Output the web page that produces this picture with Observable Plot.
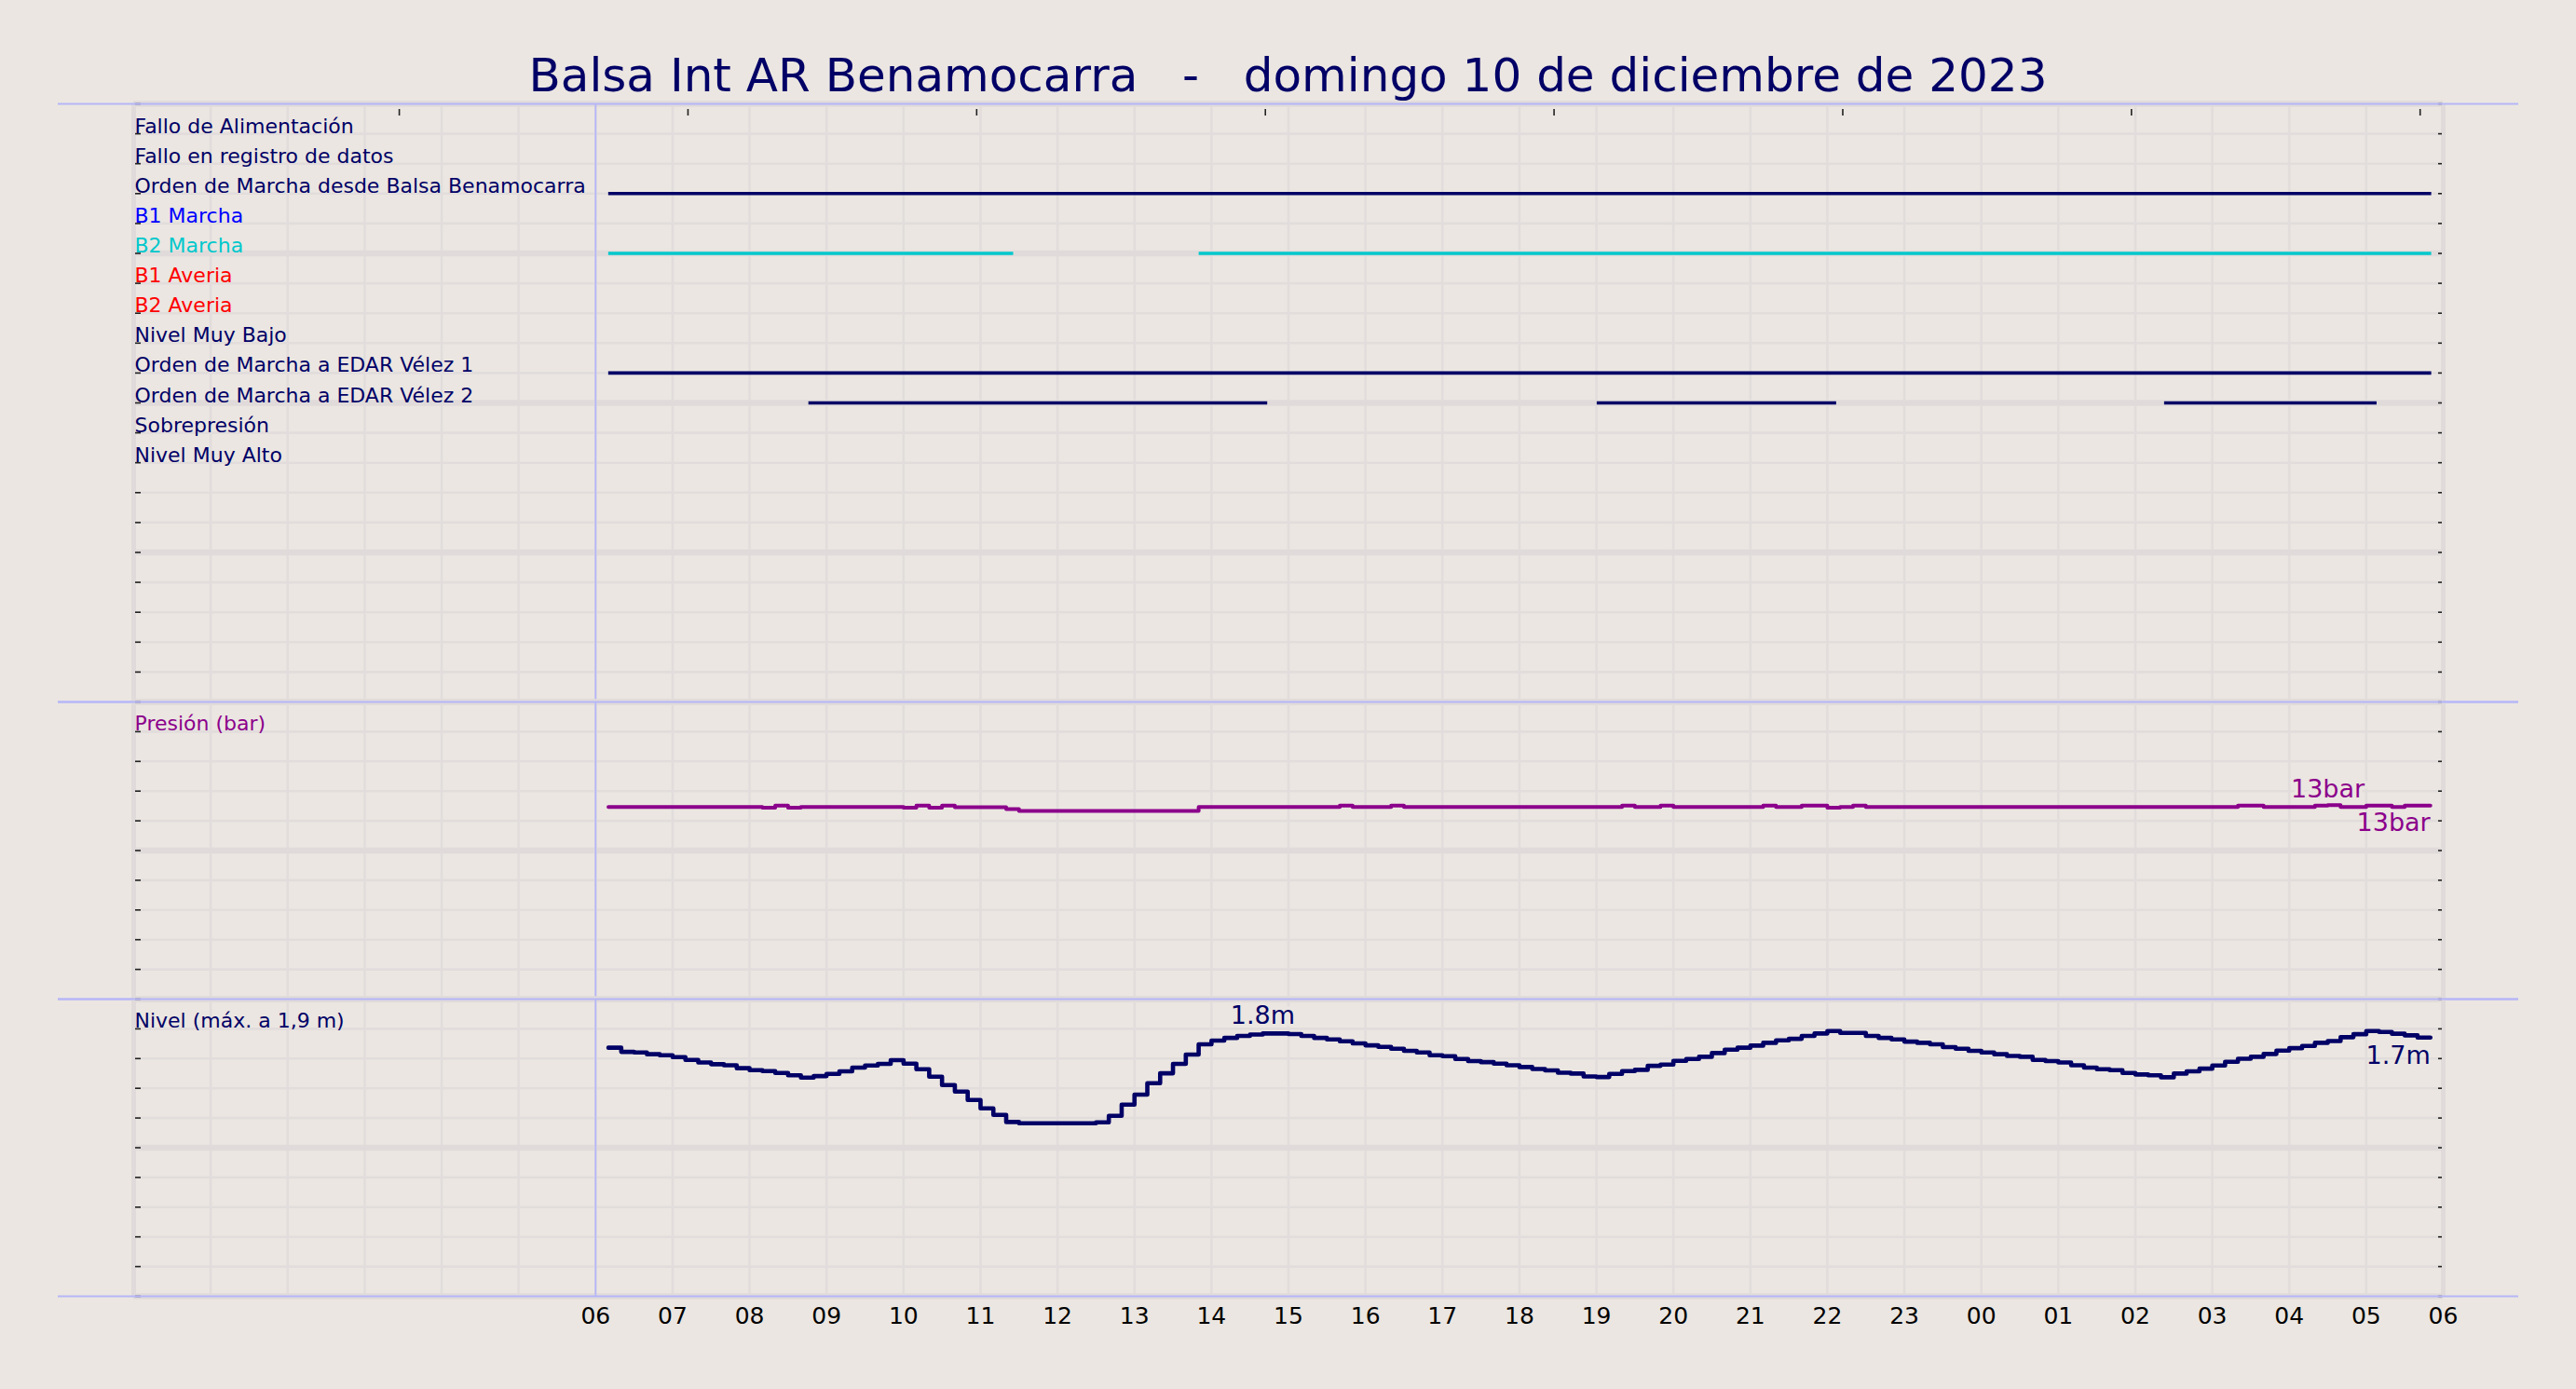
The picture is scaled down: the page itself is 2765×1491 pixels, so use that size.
<!DOCTYPE html>
<html>
<head>
<meta charset="utf-8">
<script src="https://cdn.jsdelivr.net/npm/d3@7"></script>
<script src="https://cdn.jsdelivr.net/npm/@observablehq/plot@0.6"></script>
<style>
html, body { margin: 0; padding: 0; background: #ebe6e1; }
#wrap { position: relative; width: 2765px; height: 1491px; overflow: hidden; background: #ebe6e1; }
#title { position: absolute; left: 0; top: 56px; width: 2765px; text-align: center;
  font-family: "DejaVu Sans"; font-size: 50px; line-height: 50px; color: #000066; white-space: pre; }
.panel { position: absolute; left: 0; }
</style>
</head>
<body>
<div id="wrap"><div id="title"></div></div>
<script>
// ---------------- DATA ----------------
const titleText = "Balsa Int AR Benamocarra   -   domingo 10 de diciembre de 2023";

const signalNames = [
  "Fallo de Alimentación",
  "Fallo en registro de datos",
  "Orden de Marcha desde Balsa Benamocarra",
  "B1 Marcha",
  "B2 Marcha",
  "B1 Averia",
  "B2 Averia",
  "Nivel Muy Bajo",
  "Orden de Marcha a EDAR Vélez 1",
  "Orden de Marcha a EDAR Vélez 2",
  "Sobrepresión",
  "Nivel Muy Alto"
];
const signalColors = ["#000066","#000066","#000066","#0000ff","#00c8cc","#ff0000","#ff0000","#000066","#000066","#000066","#000066","#000066"];

// on-periods of the digital signals, in hours since 00:00 of the day (next day > 24)
const ordenBalsaRuns = [[6.17, 29.85]];
const b2MarchaRuns   = [[6.17, 11.43], [13.84, 29.85]];
const edar1Runs      = [[6.17, 29.85]];
const edar2Runs      = [[8.77, 14.73], [19.01, 22.12], [26.38, 29.14]];

// 10-minute samples starting 06:10
const sampleStartHour = 6 + 10 / 60;
const sampleStepHours = 10 / 60;

const pressureValues = [
  12.93,12.93,12.93,12.93,12.93,12.93,12.93,12.93,12.93,12.93,
  12.93,12.93,12.88,13.02,12.88,12.93,12.93,12.93,12.93,12.93,
  12.93,12.93,12.93,12.88,13.02,12.88,13.02,12.91,12.91,12.91,
  12.91,12.79,12.66,12.66,12.66,12.66,12.66,12.66,12.66,12.66,
  12.66,12.66,12.66,12.66,12.66,12.66,12.93,12.93,12.93,12.93,
  12.93,12.93,12.93,12.93,12.93,12.93,12.93,13.02,12.93,12.93,
  12.93,13.02,12.93,12.93,12.93,12.93,12.93,12.93,12.93,12.93,
  12.93,12.93,12.93,12.93,12.93,12.93,12.93,12.93,12.93,13.02,
  12.93,12.93,13.02,12.93,12.93,12.93,12.93,12.93,12.93,12.93,
  13.02,12.93,12.93,13.02,13.02,12.88,12.93,13.02,12.93,12.93,
  12.93,12.93,12.93,12.93,12.93,12.93,12.93,12.93,12.93,12.93,
  12.93,12.93,12.93,12.93,12.93,12.93,12.93,12.93,12.93,12.93,
  12.93,12.93,12.93,12.93,12.93,12.93,12.93,13.02,13.02,12.93,
  12.93,12.93,12.93,13.02,13.05,12.93,12.93,13.02,13.02,12.93,
  13.02,13.02
];

const levelValues = [
  1.673,1.645,1.641,1.629,1.622,1.610,1.591,1.574,1.562,1.555,
  1.535,1.522,1.516,1.503,1.487,1.472,1.482,1.497,1.514,1.539,
  1.553,1.564,1.589,1.566,1.528,1.478,1.422,1.378,1.321,1.265,
  1.221,1.173,1.165,1.165,1.165,1.165,1.165,1.165,1.171,1.215,
  1.290,1.357,1.434,1.501,1.564,1.627,1.696,1.721,1.739,1.752,
  1.762,1.769,1.769,1.765,1.752,1.739,1.729,1.716,1.702,1.689,
  1.679,1.666,1.652,1.641,1.622,1.616,1.597,1.583,1.576,1.566,
  1.555,1.543,1.530,1.520,1.505,1.499,1.480,1.476,1.497,1.516,
  1.524,1.551,1.560,1.585,1.597,1.612,1.637,1.660,1.673,1.687,
  1.706,1.723,1.733,1.752,1.769,1.785,1.773,1.773,1.752,1.739,
  1.729,1.714,1.706,1.696,1.677,1.666,1.652,1.641,1.629,1.618,
  1.612,1.591,1.583,1.574,1.555,1.539,1.528,1.522,1.503,1.493,
  1.487,1.474,1.499,1.514,1.532,1.553,1.578,1.599,1.612,1.631,
  1.654,1.670,1.685,1.706,1.718,1.744,1.764,1.785,1.779,1.767,
  1.756,1.741
];
const levelMarkIndex = 51;   // sample annotated with its value in the reference

const hourDomain = [0, 30];
const gridHours = [0,1,2,3,4,5,6,7,8,9,10,11,12,13,14,15,16,17,18,19,20,21,22,23,24,25,26,27,28,29,30];
const dayStartHour = 6;
const xTickHours = [6,7,8,9,10,11,12,13,14,15,16,17,18,19,20,21,22,23,24,25,26,27,28,29,30];
const xTickLabels = ["06","07","08","09","10","11","12","13","14","15","16","17","18","19","20","21","22","23","00","01","02","03","04","05","06"];
const topTickHours = [3.45, 7.2, 10.95, 14.7, 18.45, 22.2, 25.95, 29.7];

const signalRows = [0,1,2,3,4,5,6,7,8,9,10,11,12,13,14,15,16,17,18,19,20];
const signalThickRows = [0,5,10,15,20];
const pressureGrid = [0,2,4,6,8,10,12,14,16,18,20];
const pressureThick = [0,10,20];
const levelGrid = [0,0.2,0.4,0.6,0.8,1.0,1.2,1.4,1.6,1.8,2.0];
const levelThick = [0,1.0,2.0];

// ---------------- STYLE ----------------
const BG = "#ebe6e1", GRID = "#e2dddc", GRID_THICK = "#e0dbda", SEP = "#b6b6f8", NAVY = "#000066", PURPLE = "#8b008b";
const W = 2765;
const common = {
  width: W, marginLeft: 62, marginRight: 62,
  style: {background: "transparent", fontFamily: "DejaVu Sans", overflow: "visible", color: "black"}
};
const xScale = {domain: hourDomain, range: [143, 2622], axis: null};

function gridMarks(grid, thick, yTop, yBottom) {
  const thin = grid.filter(v => !thick.includes(v));
  return [
    Plot.ruleX(gridHours, {x: d => d, stroke: GRID, strokeWidth: 2.6}),
    Plot.ruleX(hourDomain, {x: d => d, stroke: GRID_THICK, strokeWidth: 5}),
    Plot.ruleY(thin, {y: d => d, x1: hourDomain[0], x2: hourDomain[1], stroke: GRID, strokeWidth: 2.6}),
    Plot.ruleY(thick, {y: d => d, x1: hourDomain[0], x2: hourDomain[1], stroke: GRID_THICK, strokeWidth: 6.5}),
    Plot.tickY(grid, {y: d => d, stroke: "#222", strokeWidth: 1.6, insetLeft: 83, insetRight: 2552}),
    Plot.tickY(grid, {y: d => d, stroke: "#222", strokeWidth: 1.6, insetLeft: 2555, insetRight: 82}),
    Plot.ruleX([dayStartHour], {x: d => d, stroke: SEP, strokeWidth: 1.8}),
    Plot.ruleY([yTop], {y: d => d, stroke: SEP, strokeWidth: 2}),
    Plot.ruleY([yBottom], {y: d => d, stroke: SEP, strokeWidth: 2})
  ];
}

document.getElementById("title").textContent = titleText;
const wrap = document.getElementById("wrap");
function place(svg, top) { svg.classList.add("panel"); svg.style.top = top + "px"; wrap.appendChild(svg); }

// ---------------- PANEL 1: digital signals ----------------
const runs = [];
[["Orden de Marcha desde Balsa Benamocarra", ordenBalsaRuns],
 ["B2 Marcha", b2MarchaRuns],
 ["Orden de Marcha a EDAR Vélez 1", edar1Runs],
 ["Orden de Marcha a EDAR Vélez 2", edar2Runs]].forEach(([name, arr]) => {
  const i = signalNames.indexOf(name);
  arr.forEach(([a, b]) => runs.push({row: i + 1, x1: a, x2: b, color: signalColors[i]}));
});

const p1 = Plot.plot({
  ...common, height: 652, marginTop: 5, marginBottom: 5,
  x: xScale, y: {domain: [0, 20], reverse: true, axis: null}, color: {type: "identity"},
  marks: [
    ...gridMarks(signalRows, signalThickRows, 0, 20),
    Plot.tickX(topTickHours, {x: d => d, stroke: "#222", strokeWidth: 1.6, insetTop: 6, insetBottom: 629}),
    Plot.ruleY(runs, {y: "row", x1: "x1", x2: "x2", stroke: "color", strokeWidth: 3.6}),
    Plot.text(signalNames, {x: hourDomain[0], y: (d, i) => i + 1, text: d => d, fill: (d, i) => signalColors[i],
      textAnchor: "start", lineAnchor: "bottom", dx: 1, dy: -1, fontSize: 22})
  ]
});
place(p1, 106);

// ---------------- PANEL 2: pressure ----------------
const pressure = pressureValues.map((v, k) => ({t: sampleStartHour + k * sampleStepHours, v}));
pressure.push({t: sampleStartHour + pressureValues.length * sampleStepHours, v: pressureValues[pressureValues.length - 1]});
const pMaxIdx = d3.maxIndex(pressureValues);
const pLast = pressure[pressure.length - 1];

const p2 = Plot.plot({
  ...common, height: 329, marginTop: 5, marginBottom: 5,
  x: xScale, y: {domain: [0, 20], axis: null},
  marks: [
    ...gridMarks(pressureGrid, pressureThick, 20, 0),
    Plot.text(["Presión (bar)"], {x: hourDomain[0], y: 18, text: d => d, fill: PURPLE,
      textAnchor: "start", lineAnchor: "bottom", dx: 1, dy: -1, fontSize: 22}),
    Plot.line(pressure, {x: "t", y: "v", curve: "step-after", stroke: PURPLE, strokeWidth: 4}),
    Plot.text([pressure[pMaxIdx]], {x: "t", y: "v", text: d => d3.format(".0f")(d.v) + "bar", fill: PURPLE,
      textAnchor: "middle", lineAnchor: "bottom", dy: -8, fontSize: 27, stroke: BG, strokeWidth: 7, paintOrder: "stroke"}),
    Plot.text([pLast], {x: "t", y: "v", text: d => d3.format(".0f")(d.v) + "bar", fill: PURPLE,
      textAnchor: "end", lineAnchor: "top", dy: 8, fontSize: 27})
  ]
});
place(p2, 748);

// ---------------- PANEL 3: level ----------------
const level = levelValues.map((v, k) => ({t: sampleStartHour + k * sampleStepHours, v}));
level.push({t: sampleStartHour + levelValues.length * sampleStepHours, v: levelValues[levelValues.length - 1]});
const lLast = level[level.length - 1];

const p3 = Plot.plot({
  ...common, height: 384, marginTop: 5, marginBottom: 60,
  x: xScale, y: {domain: [0, 2], axis: null},
  marks: [
    ...gridMarks(levelGrid, levelThick, 2, 0),
    Plot.text(["Nivel (máx. a 1,9 m)"], {x: hourDomain[0], y: 1.8, text: d => d, fill: NAVY,
      textAnchor: "start", lineAnchor: "bottom", dx: 1, dy: -1, fontSize: 22}),
    Plot.line(level, {x: "t", y: "v", curve: "step-after", stroke: NAVY, strokeWidth: 4.6}),
    Plot.text([level[levelMarkIndex]], {x: "t", y: "v", text: d => d3.format(".1f")(d.v) + "m", fill: NAVY,
      textAnchor: "middle", lineAnchor: "bottom", dy: -10, fontSize: 27, stroke: BG, strokeWidth: 7, paintOrder: "stroke"}),
    Plot.text([lLast], {x: "t", y: "v", text: d => d3.format(".1f")(d.v) + "m", fill: NAVY,
      textAnchor: "end", lineAnchor: "top", dy: 9, fontSize: 27}),
    Plot.axisX({ticks: xTickHours, tickFormat: d => xTickLabels[xTickHours.indexOf(d)], tickSize: 0, tickPadding: 12,
      fontSize: 25, color: "black", anchor: "bottom", label: null})
  ]
});
place(p3, 1067);
</script>
</body>
</html>
